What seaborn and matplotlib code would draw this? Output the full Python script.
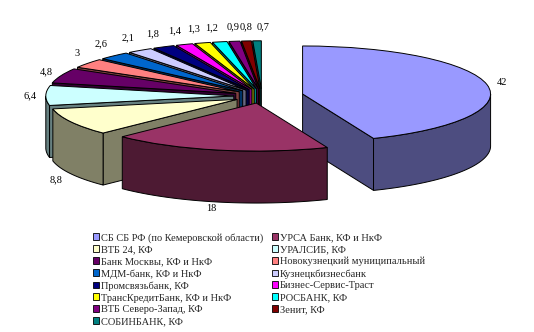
import numpy as np
import matplotlib
matplotlib.use("Agg")
import matplotlib.pyplot as plt
from matplotlib.patches import Polygon, Patch
from matplotlib.colors import to_rgb
import seaborn as sns

# ---------------- data ----------------
banks = ["СБ СБ РФ (по Кемеровской области)", "УРСА Банк, КФ и НкФ",
         "ВТБ 24, КФ", "УРАЛСИБ, КФ",
         "Банк Москвы, КФ и НкФ", "Новокузнецкий муниципальный",
         "МДМ-банк, КФ и НкФ", "Кузнецкбизнесбанк",
         "Промсвязьбанк, КФ", "Бизнес-Сервис-Траст",
         "ТрансКредитБанк, КФ и НкФ", "РОСБАНК, КФ",
         "ВТБ Северо-Запад, КФ", "Зенит, КФ",
         "СОБИНБАНК, КФ"]
shares = [42, 18, 8.8, 6.4, 4.8, 3, 2.6, 2.1, 1.8, 1.4, 1.3, 1.2, 0.9, 0.8, 0.7]
value_labels = ["42", "18", "8,8", "6,4", "4,8", "3", "2,6", "2,1", "1,8",
                "1,4", "1,3", "1,2", "0,9", "0,8", "0,7"]
colors = ["#9999FF", "#993366", "#FFFFCC", "#CCFFFF", "#660066", "#FF8080",
          "#0066CC", "#CCCCFF", "#000080", "#FF00FF", "#FFFF00", "#00FFFF",
          "#800080", "#800000", "#008080"]

# ---------------- style ----------------
sns.set_theme(style="white")
plt.rcParams['font.family'] = ['Liberation Serif', 'DejaVu Serif']
FS = 7.5

W, H = 534, 332
fig = plt.figure(figsize=(W / 100, H / 100), dpi=100)
fig.patch.set_facecolor("white")
ax = fig.add_axes([0, 0, 1, 1])

explode = [0.22] + [0.15] * (len(shares) - 1)
wedges, _ = ax.pie(shares, colors=colors, startangle=90, counterclock=False,
                   explode=explode,
                   wedgeprops=dict(edgecolor="black", linewidth=0.7))
ax.set_aspect("auto")
RX, RY, CX, CY = 188.0, 48.0, 262.0, 96.0   # pixel scale of the ellipse
ax.set_xlim(-CX / RX, (W - CX) / RX)
ax.set_ylim(-(H - CY) / RY, CY / RY)
ax.axis("off")
depth = 52.0 / RY


def dark(c):
    return tuple(np.array(to_rgb(c)) * 0.5)


mids = [np.radians((w.theta1 + w.theta2) / 2) for w in wedges]
order = sorted(range(len(wedges)), key=lambda i: -np.sin(mids[i]))

for rank, i in enumerate(order):
    w = wedges[i]
    cx, cy = w.center
    r = w.r
    t1, t2 = w.theta1, w.theta2
    z = 2 + rank * 3
    sc = dark(colors[i])
    # radial cut faces
    for t, vis in ((t1, np.cos(np.radians(t1)) > 1e-6),
                   (t2, np.cos(np.radians(t2)) < -1e-6)):
        if vis:
            px = cx + r * np.cos(np.radians(t))
            py = cy + r * np.sin(np.radians(t))
            poly = [(cx, cy), (px, py), (px, py - depth), (cx, cy - depth)]
            ax.add_patch(Polygon(poly, closed=True, fc=sc, ec="black",
                                 lw=0.7, zorder=z))
    # outer (front) side
    for k in range(-2, 2):
        a = max(t1, 180 + 360 * k)
        b = min(t2, 360 + 360 * k)
        if b > a:
            ts = np.radians(np.linspace(a, b, 120))
            xs = cx + r * np.cos(ts)
            ys = cy + r * np.sin(ts)
            pts = list(zip(xs, ys)) + list(zip(xs[::-1], ys[::-1] - depth))
            ax.add_patch(Polygon(pts, closed=True, fc=sc, ec="black",
                                 lw=0.7, zorder=z + 1))
    w.set_zorder(z + 2)

# value labels
for i, w in enumerate(wedges):
    cx, cy = w.center
    c, s = np.cos(mids[i]), np.sin(mids[i])
    lx = cx + 1.05 * c
    ly = cy + (1.2 if s > 0 else 1.05) * s
    if s < 0:
        ly -= depth * min(1.0, -s / 0.4)
    ha = "left" if c > -0.04 else ("right" if c < -0.15 else "center")
    va = "bottom" if s > 0.5 else ("top" if s < -0.3 else "center")
    ax.text(lx, ly, value_labels[i], ha=ha, va=va, fontsize=FS,
            color="black", zorder=100)

# legend
handles = [Patch(facecolor=col, edgecolor="black", linewidth=0.6) for col in colors]
col1 = list(range(0, len(banks), 2))
col2 = list(range(1, len(banks), 2))
idx = col1 + col2
fig.legend([handles[i] for i in idx], [banks[i] for i in idx], ncol=2,
           loc="upper left", bbox_to_anchor=(92.5 / W, 1 - 233 / H),
           frameon=False, fontsize=FS, borderaxespad=0, borderpad=0,
           handlelength=0.63, handleheight=0.63, handletextpad=0.15,
           columnspacing=0.83, labelspacing=0.26)

fig.savefig("out.png", dpi=100, facecolor="white")
